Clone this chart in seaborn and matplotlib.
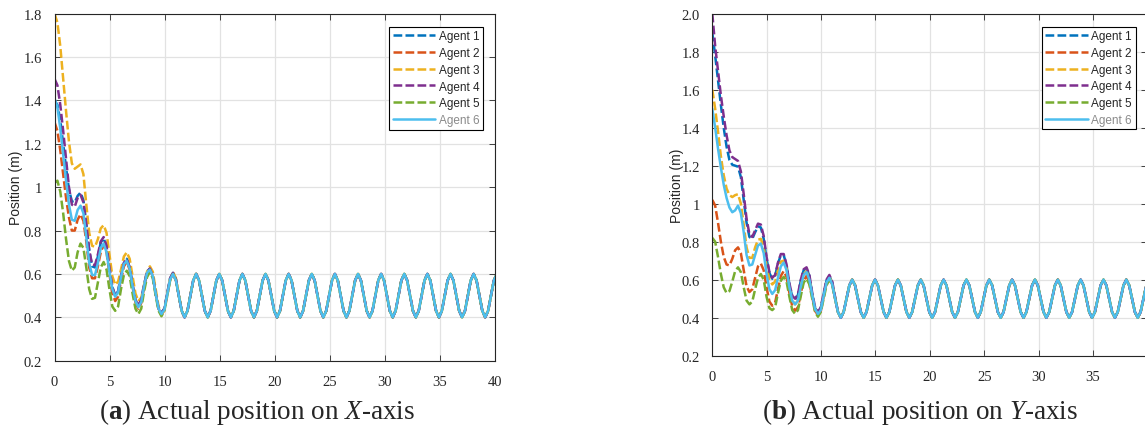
import numpy as np
import pandas as pd
import seaborn as sns
import matplotlib.pyplot as plt

# samples every 0.2625 s (8 per oscillation period)
DT = 0.2625
time = np.round(np.arange(154) * DT, 4)

agents = ["Agent 1", "Agent 2", "Agent 3", "Agent 4", "Agent 5", "Agent 6"]
colors = ["#0072BD", "#D95319", "#EDB120", "#7E2F8E", "#77AC30", "#4DBEEE"]

# transient part, t = 0 .. 11.55 s (45 samples), X-axis
x_agent1 = [1.40, 1.38, 1.31, 1.20, 1.09, 0.99, 0.935, 0.93, 0.96, 0.975, 0.94, 0.83, 0.71, 0.635, 0.63,
            0.68, 0.745, 0.765, 0.725, 0.63, 0.54, 0.50, 0.52, 0.59, 0.65, 0.67, 0.63, 0.55, 0.48, 0.455,
            0.48, 0.55, 0.61, 0.625, 0.59, 0.51, 0.44, 0.42, 0.44, 0.51, 0.58, 0.605, 0.575, 0.50, 0.43]
x_agent2 = [1.30, 1.26, 1.17, 1.06, 0.95, 0.86, 0.80, 0.80, 0.85, 0.875, 0.845, 0.75, 0.63, 0.58, 0.58,
            0.635, 0.70, 0.735, 0.70, 0.60, 0.51, 0.475, 0.495, 0.57, 0.635, 0.655, 0.62, 0.54, 0.47, 0.44,
            0.465, 0.54, 0.60, 0.62, 0.59, 0.51, 0.44, 0.41, 0.435, 0.505, 0.575, 0.60, 0.57, 0.50, 0.43]
x_agent3 = [1.80, 1.76, 1.65, 1.50, 1.35, 1.21, 1.11, 1.085, 1.095, 1.105, 1.06, 0.92, 0.79, 0.73, 0.725,
            0.76, 0.81, 0.825, 0.79, 0.69, 0.59, 0.55, 0.565, 0.62, 0.68, 0.70, 0.67, 0.59, 0.51, 0.475,
            0.49, 0.55, 0.61, 0.635, 0.61, 0.53, 0.45, 0.415, 0.43, 0.50, 0.575, 0.61, 0.58, 0.505, 0.43]
x_agent4 = [1.50, 1.47, 1.38, 1.26, 1.13, 1.00, 0.92, 0.91, 0.95, 0.965, 0.93, 0.83, 0.71, 0.645, 0.64,
            0.69, 0.75, 0.77, 0.73, 0.63, 0.54, 0.50, 0.52, 0.59, 0.65, 0.67, 0.63, 0.55, 0.48, 0.455,
            0.48, 0.55, 0.61, 0.625, 0.59, 0.51, 0.44, 0.42, 0.44, 0.51, 0.58, 0.605, 0.575, 0.50, 0.43]
x_agent5 = [1.02, 1.03, 0.98, 0.88, 0.76, 0.66, 0.615, 0.63, 0.70, 0.74, 0.72, 0.63, 0.53, 0.485, 0.49,
            0.56, 0.63, 0.655, 0.62, 0.53, 0.45, 0.43, 0.45, 0.53, 0.595, 0.615, 0.59, 0.51, 0.44, 0.415,
            0.44, 0.52, 0.585, 0.61, 0.58, 0.50, 0.43, 0.405, 0.43, 0.50, 0.57, 0.60, 0.57, 0.50, 0.43]
x_agent6 = [1.41, 1.37, 1.27, 1.15, 1.03, 0.92, 0.85, 0.845, 0.895, 0.915, 0.88, 0.77, 0.65, 0.595, 0.595,
            0.65, 0.72, 0.74, 0.70, 0.61, 0.53, 0.495, 0.515, 0.585, 0.645, 0.66, 0.625, 0.545, 0.475, 0.447,
            0.47, 0.545, 0.605, 0.62, 0.59, 0.51, 0.44, 0.415, 0.435, 0.505, 0.575, 0.60, 0.57, 0.50, 0.43]

# transient part, Y-axis
y_agent1 = [1.90, 1.78, 1.65, 1.52, 1.40, 1.30, 1.23, 1.205, 1.20, 1.195, 1.14, 1.02, 0.90, 0.825, 0.815,
            0.85, 0.88, 0.875, 0.815, 0.71, 0.635, 0.605, 0.62, 0.685, 0.73, 0.73, 0.675, 0.575, 0.51, 0.495,
            0.52, 0.595, 0.65, 0.66, 0.62, 0.525, 0.45, 0.43, 0.45, 0.525, 0.595, 0.62, 0.585, 0.505, 0.43]
y_agent2 = [1.02, 0.99, 0.90, 0.80, 0.72, 0.68, 0.675, 0.71, 0.755, 0.77, 0.74, 0.65, 0.565, 0.535, 0.55,
            0.61, 0.67, 0.685, 0.65, 0.56, 0.485, 0.463, 0.48, 0.55, 0.62, 0.645, 0.615, 0.53, 0.46, 0.437,
            0.455, 0.53, 0.595, 0.62, 0.585, 0.51, 0.435, 0.415, 0.435, 0.51, 0.58, 0.605, 0.575, 0.50, 0.43]
y_agent3 = [1.60, 1.50, 1.38, 1.25, 1.15, 1.08, 1.045, 1.035, 1.045, 1.05, 1.00, 0.89, 0.77, 0.715, 0.715,
            0.77, 0.81, 0.815, 0.77, 0.67, 0.60, 0.575, 0.59, 0.65, 0.695, 0.70, 0.66, 0.56, 0.49, 0.47,
            0.49, 0.57, 0.63, 0.645, 0.605, 0.52, 0.445, 0.42, 0.445, 0.52, 0.59, 0.615, 0.58, 0.505, 0.43]
y_agent4 = [2.00, 1.83, 1.70, 1.57, 1.46, 1.36, 1.28, 1.245, 1.235, 1.225, 1.17, 1.05, 0.92, 0.84, 0.825,
            0.86, 0.895, 0.89, 0.83, 0.72, 0.64, 0.61, 0.625, 0.69, 0.735, 0.735, 0.68, 0.58, 0.515, 0.50,
            0.525, 0.60, 0.655, 0.665, 0.625, 0.53, 0.455, 0.43, 0.455, 0.53, 0.60, 0.625, 0.59, 0.51, 0.43]
y_agent5 = [0.82, 0.80, 0.72, 0.63, 0.56, 0.53, 0.54, 0.59, 0.645, 0.665, 0.64, 0.56, 0.49, 0.47, 0.485,
            0.55, 0.61, 0.63, 0.60, 0.51, 0.45, 0.44, 0.455, 0.53, 0.595, 0.615, 0.59, 0.51, 0.44, 0.42,
            0.44, 0.515, 0.585, 0.605, 0.575, 0.50, 0.43, 0.405, 0.43, 0.50, 0.57, 0.60, 0.57, 0.50, 0.43]
y_agent6 = [1.50, 1.40, 1.29, 1.19, 1.10, 1.03, 0.98, 0.955, 0.965, 0.99, 0.95, 0.85, 0.73, 0.675, 0.68,
            0.73, 0.78, 0.79, 0.74, 0.63, 0.55, 0.525, 0.545, 0.61, 0.67, 0.69, 0.65, 0.56, 0.49, 0.47,
            0.49, 0.565, 0.625, 0.64, 0.60, 0.52, 0.445, 0.42, 0.44, 0.515, 0.585, 0.61, 0.575, 0.50, 0.43]

# common steady oscillation, t = 11.81 .. 40.16 s (all agents overlap)
steady_tail = [
    0.40, 0.43, 0.50, 0.57, 0.60, 0.57, 0.50, 0.43,
    0.40, 0.43, 0.50, 0.57, 0.60, 0.57, 0.50, 0.43,
    0.40, 0.43, 0.50, 0.57, 0.60, 0.57, 0.50, 0.43,
    0.40, 0.43, 0.50, 0.57, 0.60, 0.57, 0.50, 0.43,
    0.40, 0.43, 0.50, 0.57, 0.60, 0.57, 0.50, 0.43,
    0.40, 0.43, 0.50, 0.57, 0.60, 0.57, 0.50, 0.43,
    0.40, 0.43, 0.50, 0.57, 0.60, 0.57, 0.50, 0.43,
    0.40, 0.43, 0.50, 0.57, 0.60, 0.57, 0.50, 0.43,
    0.40, 0.43, 0.50, 0.57, 0.60, 0.57, 0.50, 0.43,
    0.40, 0.43, 0.50, 0.57, 0.60, 0.57, 0.50, 0.43,
    0.40, 0.43, 0.50, 0.57, 0.60, 0.57, 0.50, 0.43,
    0.40, 0.43, 0.50, 0.57, 0.60, 0.57, 0.50, 0.43,
    0.40, 0.43, 0.50, 0.57, 0.60, 0.57, 0.50, 0.43,
    0.40, 0.43, 0.50, 0.57, 0.60,
]

x_ticks = [0, 5, 10, 15, 20, 25, 30, 35, 40]
x_ticklabels_a = ["0", "5", "10", "15", "20", "25", "30", "35", "40"]
x_ticklabels_b = ["0", "5", "10", "15", "20", "25", "30", "35", ""]  # 40 falls off the page
x_yticks = [0.2, 0.4, 0.6, 0.8, 1.0, 1.2, 1.4, 1.6, 1.8]
x_yticklabels = ["0.2", "0.4", "0.6", "0.8", "1", "1.2", "1.4", "1.6", "1.8"]
y_yticks = [0.2, 0.4, 0.6, 0.8, 1.0, 1.2, 1.4, 1.6, 1.8, 2.0]
y_yticklabels = ["0.2", "0.4", "0.6", "0.8", "1", "1.2", "1.4", "1.6", "1.8", "2.0"]


def to_long(heads):
    frames = []
    for name, head in zip(agents, heads):
        frames.append(pd.DataFrame({"time": time, "position": head + steady_tail, "agent": name}))
    return pd.concat(frames, ignore_index=True)


def plot_panel(ax, df, xticklabels, yticks, yticklabels, label_x, caption, caption_x):
    palette = dict(zip(agents, colors))
    dashes = {name: (3.5, 1.3) for name in agents[:5]}
    dashes[agents[5]] = ""
    sns.lineplot(data=df, x="time", y="position", hue="agent", style="agent",
                 palette=palette, dashes=dashes, linewidth=1.8,
                 estimator=None, sort=False, ax=ax)
    ax.set_xlim(0, 40)
    ax.set_ylim(yticks[0], yticks[-1])
    ax.set_xticks(x_ticks)
    ax.set_xticklabels(xticklabels)
    ax.set_yticks(yticks)
    ax.set_yticklabels(yticklabels)
    ax.set_xlabel("")
    ax.set_ylabel("Position (m)", family="Liberation Sans", fontsize=10)
    ax.yaxis.set_label_coords(label_x, 0.5)
    ax.grid(True, color="#e2e2e2", linewidth=0.9)
    ax.set_axisbelow(True)
    ax.tick_params(direction="in", top=True, right=True, length=4, width=0.6,
                   labelsize=10.5, colors="#262626")
    ax.tick_params(axis="x", pad=10)
    ax.tick_params(axis="y", pad=9)
    for sp in ax.spines.values():
        sp.set_visible(True)
        sp.set_color("#262626")
        sp.set_linewidth(0.8)
    handles, labels = ax.get_legend_handles_labels()
    leg = ax.legend(handles, labels, loc="upper right", bbox_to_anchor=(0.973, 0.962),
                    borderaxespad=0, fancybox=False, framealpha=1, edgecolor="black",
                    prop={"family": "Liberation Sans", "size": 8.5}, handlelength=3.6,
                    handletextpad=0.3, labelspacing=0.4, borderpad=0.3)
    leg.get_frame().set_linewidth(0.8)
    leg.get_texts()[5].set_color("#8a8a8a")
    fig.text(caption_x, 0.045, caption, ha="center", va="baseline", fontsize=19.5)


sns.set_style("ticks")
plt.rcParams["font.family"] = ["Liberation Serif", "DejaVu Serif"]
plt.rcParams["mathtext.fontset"] = "custom"
plt.rcParams["mathtext.rm"] = "Liberation Serif"
plt.rcParams["mathtext.it"] = "Liberation Serif:italic"
plt.rcParams["mathtext.bf"] = "Liberation Serif:bold"

fig = plt.figure(figsize=(11.45, 4.39), dpi=100)
ax_x = fig.add_axes([0.0476, 0.1761, 0.3847, 0.7904])
ax_y = fig.add_axes([0.6221, 0.1875, 0.3800, 0.7790])

df_x = to_long([x_agent1, x_agent2, x_agent3, x_agent4, x_agent5, x_agent6])
df_y = to_long([y_agent1, y_agent2, y_agent3, y_agent4, y_agent5, y_agent6])

plot_panel(ax_x, df_x, x_ticklabels_a, x_yticks, x_yticklabels, -0.072,
           r"($\mathbf{a}$) Actual position on $\mathit{X}$-axis", 0.2245)
plot_panel(ax_y, df_y, x_ticklabels_b, y_yticks, y_yticklabels, -0.066,
           r"($\mathbf{b}$) Actual position on $\mathit{Y}$-axis", 0.8035)

fig.savefig("out.png", dpi=100)
